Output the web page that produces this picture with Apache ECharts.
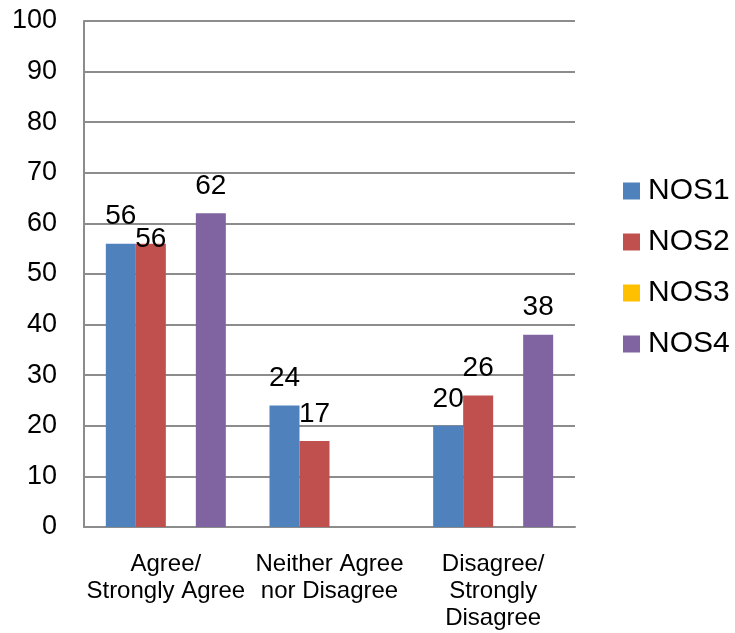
<!DOCTYPE html>
<html>
<head>
<meta charset="utf-8">
<script src="https://cdn.jsdelivr.net/npm/echarts@6/dist/echarts.min.js"></script>
<style>
html, body { margin: 0; padding: 0; background: #fff; }
#view-chart { width: 735px; height: 633px; }
</style>
</head>
<body>
<div id="view-chart"></div>
<script>
var categories = ["Agree/\nStrongly Agree", "Neither Agree\nnor Disagree", "Disagree/\nStrongly\nDisagree"];
var seriesNames = ["NOS1", "NOS2", "NOS3", "NOS4"];
var nos1 = [56, 24, 20];
var nos2 = [56, 17, 26];
var nos3 = [null, null, null];
var nos4 = [62, null, 38];
var yTicks = [0, 10, 20, 30, 40, 50, 60, 70, 80, 90, 100];

var colors = ["#4F81BD", "#C0504D", "#FFC000", "#8064A2"];
var font = "'Liberation Sans', Arial, sans-serif";

// the red 56 label sits lower in the original, where it would collide with the blue one
function items(vals, shiftFirst) {
	return vals.map(function(v, i) {
		if (shiftFirst && i == 0) return { value: v, label: { offset: [0, 23] } };
		return v;
	});
}

var myChart = echarts.init(document.getElementById("view-chart"));
var option = {
	animation: false,
	color: colors,
	textStyle: { fontFamily: font },
	grid: { left: 84, right: 160, top: 21, bottom: 106, containLabel: false, outerBoundsMode: "none" },
	legend: {
		orient: "vertical",
		left: 618,
		top: 171,
		icon: "rect",
		itemWidth: 17,
		itemHeight: 17,
		itemGap: 21,
		data: seriesNames,
		textStyle: { fontSize: 30, color: "#000", fontFamily: font, padding: [0, 0, 0, 3] }
	},
	xAxis: {
		type: "category",
		data: categories,
		axisLine: { lineStyle: { color: "#8c8c8c", width: 2 } },
		axisTick: { show: false },
		axisLabel: { fontSize: 24, lineHeight: 27, color: "#000", margin: 24, fontFamily: font, interval: 0 }
	},
	yAxis: {
		type: "value",
		min: yTicks[0],
		max: yTicks[yTicks.length - 1],
		interval: 10,
		axisLine: { show: true, lineStyle: { color: "#8c8c8c", width: 2 } },
		axisTick: { show: false },
		axisLabel: { fontSize: 27, color: "#000", margin: 27, fontFamily: font, padding: [5, 0, 0, 0] },
		splitLine: { lineStyle: { color: "#8c8c8c", width: 2 } }
	},
	series: [nos1, nos2, nos3, nos4].map(function(vals, k) {
		return {
			name: seriesNames[k],
			type: "bar",
			barWidth: 30,
			barGap: "0%",
			data: items(vals, k == 1),
			label: { show: true, position: "top", distance: 13, fontSize: 28, color: "#000", fontFamily: font }
		};
	})
};
myChart.setOption(option);
</script>
</body>
</html>
